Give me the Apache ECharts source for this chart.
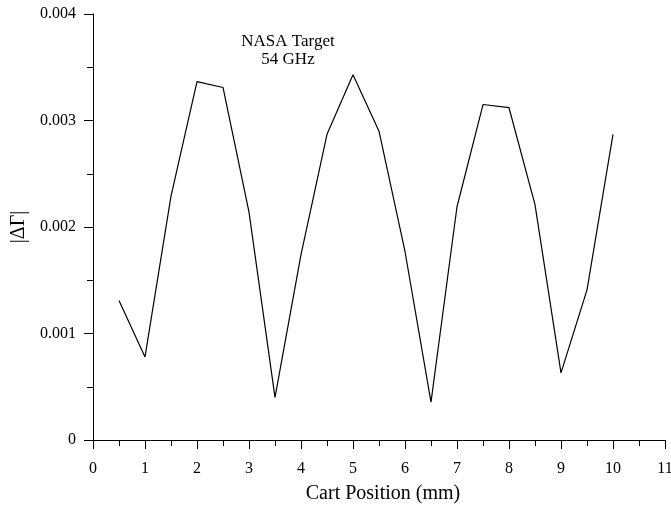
<!DOCTYPE html>
<html><head><meta charset="utf-8">
<script src="https://cdn.jsdelivr.net/npm/echarts@6/dist/echarts.min.js"></script>
<style>html,body{margin:0;padding:0;background:#fff}#c{width:671px;height:506px}</style>
</head><body><div id="c"></div>
<script>
const cartPosition = [0.5,1,1.5,2,2.5,3,3.5,4,4.5,5,5.5,6,6.5,7,7.5,8,8.5,9,9.5,10];
const deltaGamma = [0.00131,0.00078,0.00229,0.003365,0.00331,0.00214,0.0004,0.00174,0.00287,0.00343,0.0029,0.00177,0.000355,0.00219,0.00315,0.00312,0.00221,0.00063,0.00141,0.00287];
const titleLines = ['NASA Target','54 GHz'];
const xName = 'Cart Position (mm)';
const yName = '|ΔΓ|';
const font = 'Liberation Serif';
const chart = echarts.init(document.getElementById('c'));
chart.setOption({
  animation:false,
  backgroundColor:'#fff',
  title:{text:titleLines.join('\n'),left:283,top:28,textAlign:'center',
    textStyle:{fontFamily:font,fontSize:17,fontWeight:'normal',color:'#000',lineHeight:18}},
  grid:{left:93,right:6,top:14,bottom:66,containLabel:false,outerBoundsMode:'none'},
  xAxis:{type:'value',min:0,max:11,interval:1,
    name:xName,nameLocation:'middle',nameGap:44,
    nameTextStyle:{fontFamily:font,fontSize:20,color:'#000',padding:[0,0,0,8]},
    axisLine:{onZero:false,lineStyle:{color:'#000',width:1}},
    axisTick:{inside:false,length:9,lineStyle:{color:'#000'}},
    minorTick:{show:true,splitNumber:2,length:6,lineStyle:{color:'#000'}},
    axisLabel:{fontFamily:font,fontSize:16,color:'#000',margin:21},
    splitLine:{show:false}},
  yAxis:{type:'value',min:0,max:0.004,interval:0.001,
    name:yName,nameLocation:'middle',nameGap:63,nameRotate:90,
    nameTextStyle:{fontFamily:font,fontSize:20,color:'#000'},
    axisLine:{show:true,lineStyle:{color:'#000',width:1}},
    axisTick:{show:true,inside:false,length:9,lineStyle:{color:'#000'}},
    minorTick:{show:true,splitNumber:2,length:6,lineStyle:{color:'#000'}},
    axisLabel:{fontFamily:font,fontSize:16,color:'#000',margin:17,
      formatter:v=>v===0?'0':v.toFixed(3)},
    splitLine:{show:false}},
  series:[{type:'line',data:cartPosition.map((x,i)=>[x,deltaGamma[i]]),
    showSymbol:false,lineStyle:{color:'#000',width:1.2}}]
});
</script></body></html>
